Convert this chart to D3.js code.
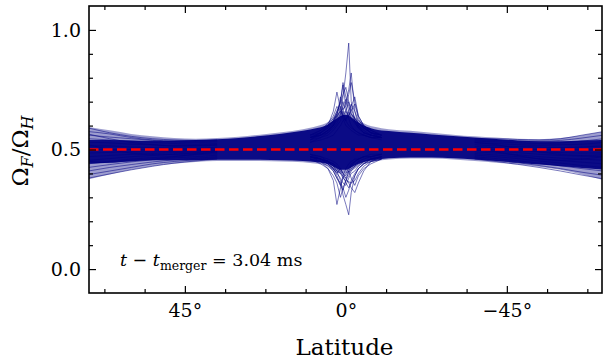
<!DOCTYPE html>
<html>
<head>
<meta charset="utf-8">
<script src="https://cdn.jsdelivr.net/npm/d3@7"></script>
<style>
  body { margin: 0; background: #fff; }
  svg { display: block; font-family: "DejaVu Serif", serif; }
</style>
</head>
<body>
<svg id="chart" width="603" height="360"></svg>
<script>
// latitude grid (degrees) for the band envelopes
const lat = [72, 66, 60, 54, 48, 42, 36, 30, 24, 18, 12, 8, 5, 3, 1.5, 0,
  -1.5, -3, -5, -8, -12, -18, -24, -30, -36, -42, -48, -54, -60, -66, -72];

// outer (faint) envelope of all field lines
const outerTop = [0.595, 0.58, 0.565, 0.555, 0.548, 0.545, 0.548, 0.553, 0.562, 0.572, 0.585, 0.598, 0.615, 0.64, 0.66, 0.66,
  0.65, 0.63, 0.61, 0.595, 0.585, 0.578, 0.57, 0.562, 0.555, 0.55, 0.545, 0.543, 0.548, 0.56, 0.575];
const outerBot = [0.375, 0.395, 0.415, 0.43, 0.44, 0.448, 0.452, 0.452, 0.452, 0.45, 0.447, 0.44, 0.43, 0.41, 0.40, 0.40,
  0.41, 0.425, 0.44, 0.45, 0.458, 0.462, 0.462, 0.458, 0.452, 0.445, 0.437, 0.428, 0.415, 0.395, 0.372];

// dense core where lines overlap completely
const coreTop = [0.54, 0.54, 0.538, 0.537, 0.538, 0.54, 0.543, 0.548, 0.556, 0.566, 0.578, 0.59, 0.605, 0.625, 0.64, 0.645,
  0.635, 0.618, 0.6, 0.585, 0.577, 0.57, 0.563, 0.556, 0.55, 0.544, 0.538, 0.535, 0.535, 0.538, 0.54];
const coreBot = [0.44, 0.445, 0.45, 0.455, 0.455, 0.455, 0.457, 0.457, 0.457, 0.455, 0.452, 0.447, 0.44, 0.425, 0.415, 0.415,
  0.425, 0.437, 0.448, 0.456, 0.463, 0.467, 0.467, 0.463, 0.458, 0.452, 0.445, 0.437, 0.43, 0.423, 0.416];

// individual lines fanning out at the northern edge
const leftLat = [72, 66, 60, 54, 48, 42, 36];
const leftLines = [
  [0.59, 0.57, 0.555, 0.545, 0.54, 0.538, 0.54],
  [0.575, 0.565, 0.55, 0.54, 0.535, 0.535, 0.537],
  [0.565, 0.545, 0.53, 0.52, 0.515, 0.517, 0.52],
  [0.56, 0.552, 0.545, 0.538, 0.532, 0.53, 0.532],
  [0.545, 0.54, 0.535, 0.53, 0.525, 0.522, 0.525],
  [0.53, 0.528, 0.522, 0.52, 0.515, 0.515, 0.518],
  [0.52, 0.5, 0.485, 0.478, 0.48, 0.487, 0.495],
  [0.515, 0.515, 0.51, 0.508, 0.505, 0.505, 0.51],
  [0.5, 0.5, 0.5, 0.498, 0.498, 0.5, 0.503],
  [0.485, 0.488, 0.49, 0.49, 0.492, 0.495, 0.497],
  [0.47, 0.475, 0.48, 0.483, 0.487, 0.49, 0.492],
  [0.455, 0.462, 0.47, 0.475, 0.48, 0.483, 0.487],
  [0.45, 0.445, 0.455, 0.46, 0.47, 0.48, 0.49],
  [0.44, 0.45, 0.46, 0.466, 0.472, 0.478, 0.482],
  [0.425, 0.437, 0.448, 0.457, 0.465, 0.47, 0.476],
  [0.41, 0.425, 0.437, 0.448, 0.457, 0.463, 0.47],
  [0.395, 0.41, 0.425, 0.44, 0.45, 0.457, 0.465],
  [0.38, 0.398, 0.415, 0.43, 0.443, 0.452, 0.46]
];

// individual lines fanning out at the southern edge
const rightLat = [-36, -42, -48, -54, -60, -66, -72];
const rightLines = [
  [0.545, 0.545, 0.542, 0.54, 0.545, 0.56, 0.575],
  [0.54, 0.538, 0.535, 0.535, 0.538, 0.548, 0.56],
  [0.535, 0.532, 0.528, 0.525, 0.528, 0.535, 0.545],
  [0.53, 0.52, 0.505, 0.49, 0.48, 0.475, 0.478],
  [0.528, 0.525, 0.52, 0.518, 0.52, 0.522, 0.53],
  [0.52, 0.515, 0.512, 0.51, 0.508, 0.51, 0.515],
  [0.512, 0.508, 0.503, 0.5, 0.498, 0.498, 0.5],
  [0.505, 0.5, 0.495, 0.49, 0.487, 0.485, 0.486],
  [0.5, 0.49, 0.475, 0.46, 0.455, 0.46, 0.47],
  [0.498, 0.492, 0.487, 0.48, 0.475, 0.472, 0.47],
  [0.49, 0.485, 0.478, 0.47, 0.464, 0.46, 0.455],
  [0.483, 0.477, 0.47, 0.462, 0.454, 0.447, 0.44],
  [0.477, 0.47, 0.462, 0.452, 0.443, 0.433, 0.425],
  [0.47, 0.462, 0.453, 0.443, 0.432, 0.42, 0.41],
  [0.465, 0.455, 0.445, 0.433, 0.42, 0.405, 0.392],
  [0.46, 0.45, 0.438, 0.425, 0.41, 0.393, 0.377]
];

// lines with the sharp excursions around the equator
const spikeLat = [10, 7, 5, 3.5, 2.5, 1.5, 0.8, 0, -0.8, -1.5, -2.5, -3.5, -5, -7, -10];
const spikeLines = [
  [0.55, 0.56, 0.57, 0.59, 0.61, 0.64, 0.72, 0.82, 0.945, 0.7, 0.62, 0.59, 0.57, 0.56, 0.55],
  [0.54, 0.55, 0.56, 0.58, 0.6, 0.62, 0.66, 0.7, 0.75, 0.82, 0.66, 0.6, 0.57, 0.56, 0.55],
  [0.55, 0.56, 0.58, 0.61, 0.65, 0.7, 0.77, 0.68, 0.63, 0.6, 0.58, 0.57, 0.56, 0.55, 0.55],
  [0.53, 0.55, 0.57, 0.6, 0.64, 0.72, 0.66, 0.62, 0.6, 0.59, 0.58, 0.57, 0.56, 0.55, 0.54],
  [0.54, 0.56, 0.58, 0.6, 0.62, 0.65, 0.68, 0.71, 0.66, 0.63, 0.61, 0.59, 0.57, 0.56, 0.55],
  [0.53, 0.54, 0.55, 0.56, 0.58, 0.6, 0.62, 0.63, 0.64, 0.66, 0.69, 0.63, 0.59, 0.57, 0.55],
  [0.54, 0.57, 0.6, 0.66, 0.74, 0.67, 0.63, 0.6, 0.59, 0.58, 0.57, 0.56, 0.56, 0.55, 0.55],
  [0.56, 0.57, 0.59, 0.62, 0.66, 0.69, 0.73, 0.76, 0.7, 0.65, 0.62, 0.6, 0.58, 0.56, 0.55],
  [0.55, 0.56, 0.58, 0.6, 0.63, 0.67, 0.7, 0.66, 0.64, 0.68, 0.72, 0.64, 0.6, 0.57, 0.56],
  [0.56, 0.58, 0.61, 0.64, 0.68, 0.66, 0.64, 0.66, 0.7, 0.67, 0.63, 0.61, 0.59, 0.57, 0.56],
  [0.55, 0.57, 0.6, 0.63, 0.66, 0.7, 0.78, 0.72, 0.68, 0.65, 0.63, 0.61, 0.59, 0.57, 0.56],
  [0.56, 0.58, 0.6, 0.62, 0.64, 0.66, 0.67, 0.68, 0.73, 0.78, 0.7, 0.64, 0.6, 0.58, 0.56],
  [0.55, 0.57, 0.59, 0.62, 0.65, 0.68, 0.64, 0.62, 0.66, 0.69, 0.66, 0.62, 0.6, 0.58, 0.56],
  [0.47, 0.46, 0.45, 0.43, 0.41, 0.37, 0.31, 0.27, 0.227, 0.32, 0.39, 0.42, 0.44, 0.46, 0.47],
  [0.47, 0.45, 0.42, 0.37, 0.27, 0.34, 0.39, 0.42, 0.44, 0.45, 0.46, 0.46, 0.47, 0.47, 0.48],
  [0.48, 0.46, 0.44, 0.41, 0.38, 0.35, 0.33, 0.37, 0.41, 0.43, 0.45, 0.46, 0.47, 0.47, 0.48],
  [0.48, 0.47, 0.46, 0.45, 0.44, 0.42, 0.4, 0.38, 0.36, 0.34, 0.32, 0.36, 0.41, 0.45, 0.47],
  [0.47, 0.46, 0.45, 0.44, 0.42, 0.4, 0.38, 0.37, 0.365, 0.36, 0.39, 0.42, 0.44, 0.46, 0.47],
  [0.48, 0.47, 0.45, 0.42, 0.39, 0.35, 0.38, 0.4, 0.42, 0.44, 0.45, 0.46, 0.47, 0.48, 0.48],
  [0.47, 0.46, 0.45, 0.43, 0.41, 0.4, 0.39, 0.38, 0.4, 0.42, 0.43, 0.45, 0.46, 0.47, 0.48],
  [0.46, 0.45, 0.43, 0.41, 0.38, 0.36, 0.34, 0.3, 0.33, 0.37, 0.4, 0.42, 0.44, 0.45, 0.46],
  [0.47, 0.46, 0.44, 0.42, 0.4, 0.38, 0.36, 0.35, 0.38, 0.4, 0.41, 0.43, 0.45, 0.46, 0.47],
  [0.46, 0.44, 0.42, 0.39, 0.36, 0.3, 0.34, 0.37, 0.39, 0.41, 0.43, 0.44, 0.45, 0.46, 0.47],
  [0.47, 0.46, 0.45, 0.44, 0.43, 0.41, 0.39, 0.36, 0.34, 0.36, 0.37, 0.4, 0.43, 0.45, 0.46],
  [0.46, 0.45, 0.44, 0.42, 0.4, 0.42, 0.4, 0.39, 0.41, 0.38, 0.35, 0.39, 0.42, 0.44, 0.46]
];

const refValue = 0.5;
const xMajor = [45, 0, -45];
const xMinor = [67.5, 56.25, 33.75, 22.5, 11.25, -11.25, -22.5, -33.75, -56.25, -67.5];
const yMajor = [0.0, 0.5, 1.0];
const yMinor = [0.1, 0.2, 0.3, 0.4, 0.6, 0.7, 0.8, 0.9];

const navy = "#000080";
const pLeft = 89, pRight = 602, pTop = 6, pBottom = 293;

const svg = d3.select("#chart");
const x = d3.scaleLinear().domain([71.8, -71.6]).range([pLeft, pRight]);
const y = d3.scaleLinear().domain([-0.1, 1.1]).range([pBottom, pTop]);

svg.append("clipPath").attr("id", "clip")
  .append("rect").attr("x", pLeft).attr("y", pTop)
  .attr("width", pRight - pLeft).attr("height", pBottom - pTop);

const plot = svg.append("g").attr("clip-path", "url(#clip)");

const idx = d3.range(lat.length);
const band = (lo, hi) => d3.area()
  .x(i => x(lat[i])).y0(i => y(lo[i])).y1(i => y(hi[i]))
  .curve(d3.curveMonotoneX)(idx);

plot.append("path").attr("d", band(outerBot, outerTop))
  .attr("fill", navy).attr("fill-opacity", 0.38);
plot.append("path").attr("d", band(coreBot, coreTop))
  .attr("fill", navy).attr("fill-opacity", 0.93);

function drawLines(xs, rows, curve) {
  const line = d3.line().x((d, i) => x(xs[i])).y(d => y(d)).curve(curve);
  plot.append("g").selectAll("path").data(rows).enter().append("path")
    .attr("d", line)
    .attr("fill", "none")
    .attr("stroke", navy)
    .attr("stroke-opacity", 0.7)
    .attr("stroke-width", 0.75);
}
drawLines(leftLat, leftLines, d3.curveMonotoneX);
drawLines(rightLat, rightLines, d3.curveMonotoneX);
drawLines(spikeLat, spikeLines, d3.curveLinear);

// reference line
plot.append("line")
  .attr("x1", pLeft).attr("x2", pRight)
  .attr("y1", y(refValue)).attr("y2", y(refValue))
  .attr("stroke", "#ff0000").attr("stroke-width", 2.6)
  .attr("stroke-dasharray", "9.5,4.5");

// axes with inward ticks on all sides
const degFmt = d => (d < 0 ? "\u2212" + Math.abs(d) : d) + "\u00b0";
function addAxis(axisFn, scale, pos, values, size, fmt) {
  const g = svg.append("g").attr("transform", pos)
    .call(axisFn(scale).tickValues(values).tickSizeInner(-size).tickSizeOuter(0)
      .tickPadding(11).tickFormat(fmt || (() => "")));
  g.select(".domain").remove();
  g.selectAll(".tick line").attr("stroke", "#000").attr("stroke-width", 1.2);
  g.selectAll("text").attr("font-family", "DejaVu Serif").attr("font-size", 19).attr("fill", "#000");
  return g;
}
addAxis(d3.axisBottom, x, `translate(0,${pBottom})`, xMajor, 7, degFmt);
addAxis(d3.axisBottom, x, `translate(0,${pBottom})`, xMinor, 4);
addAxis(d3.axisTop, x, `translate(0,${pTop})`, xMajor, 7);
addAxis(d3.axisTop, x, `translate(0,${pTop})`, xMinor, 4);
addAxis(d3.axisLeft, y, `translate(${pLeft},0)`, yMajor, 7, d3.format(".1f")).selectAll("text").attr("x", -8);
addAxis(d3.axisLeft, y, `translate(${pLeft},0)`, yMinor, 4);
addAxis(d3.axisRight, y, `translate(${pRight},0)`, yMajor, 7);
addAxis(d3.axisRight, y, `translate(${pRight},0)`, yMinor, 4);

svg.append("rect").attr("x", pLeft).attr("y", pTop)
  .attr("width", pRight - pLeft).attr("height", pBottom - pTop)
  .attr("fill", "none").attr("stroke", "#000").attr("stroke-width", 1.6);

// axis titles
svg.append("text").attr("x", (pLeft + pRight) / 2 - 1).attr("y", 355)
  .attr("text-anchor", "middle").attr("font-size", 23).text("Latitude");

const yl = svg.append("text").attr("transform", "translate(28,151) rotate(-90)")
  .attr("text-anchor", "middle").attr("font-size", 23);
yl.append("tspan").text("\u03a9");
yl.append("tspan").attr("font-style", "italic").attr("font-size", 16).attr("dy", 5).text("F");
yl.append("tspan").attr("dy", -5).text("/\u03a9");
yl.append("tspan").attr("font-style", "italic").attr("font-size", 16).attr("dy", 5).text("H");

// annotation
const ann = svg.append("text").attr("x", 120).attr("y", 266).attr("font-size", 17.5);
ann.append("tspan").attr("font-style", "italic").text("t");
ann.append("tspan").text(" \u2212 ");
ann.append("tspan").attr("font-style", "italic").text("t");
ann.append("tspan").attr("font-size", 12.5).attr("dy", 4).text("merger");
ann.append("tspan").attr("dy", -4).text(" = 3.04 ms");
</script>
</body>
</html>
